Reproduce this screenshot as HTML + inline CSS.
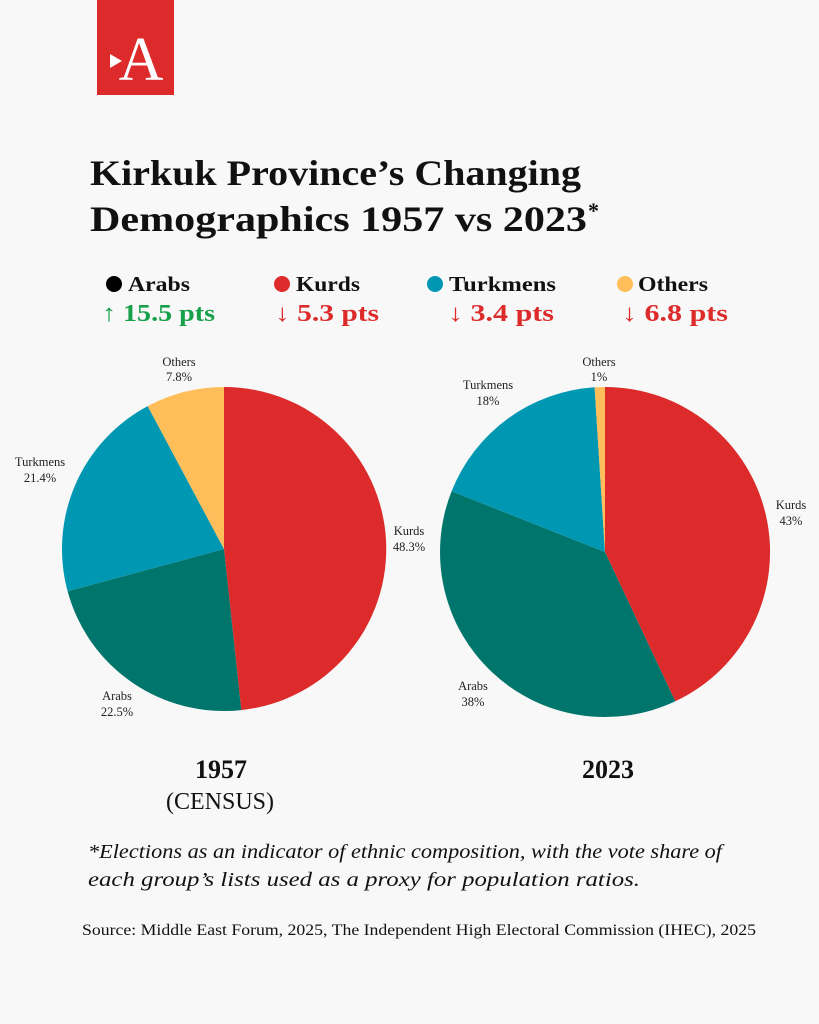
<!DOCTYPE html>
<html><head><meta charset="utf-8"><style>
body{margin:0;background:#f8f8f8;}
svg{display:block}
</style></head><body>
<svg width="819" height="1024" viewBox="0 0 819 1024" xmlns="http://www.w3.org/2000/svg" font-family="'Liberation Serif',serif">
<rect width="819" height="1024" fill="#f8f8f8"/>
<rect x="97" y="0" width="77" height="95" fill="#dc2b2a"/>
<text x="141" y="80" font-size="62" fill="#fff" text-anchor="middle">A</text>
<polygon points="110,54 122,61 110,68" fill="#fff"/>
<g font-weight="bold" fill="#111" font-size="36">
<text x="90" y="185" textLength="491" lengthAdjust="spacingAndGlyphs">Kirkuk Province’s Changing</text>
<text x="90" y="231" textLength="497" lengthAdjust="spacingAndGlyphs">Demographics 1957 vs 2023</text>
<text x="588" y="218" font-size="22">*</text>
</g>
<g font-weight="bold" font-size="21" fill="#111">
<circle cx="114" cy="284" r="8" fill="#000"/><text x="128" y="291" textLength="62" lengthAdjust="spacingAndGlyphs">Arabs</text>
<circle cx="282" cy="284" r="8" fill="#dc2b2a"/><text x="296" y="291" textLength="64" lengthAdjust="spacingAndGlyphs">Kurds</text>
<circle cx="435" cy="284" r="8" fill="#0097b2"/><text x="449" y="291" textLength="107" lengthAdjust="spacingAndGlyphs">Turkmens</text>
<circle cx="625" cy="284" r="8" fill="#ffbe5a"/><text x="638" y="291" textLength="70" lengthAdjust="spacingAndGlyphs">Others</text>
</g>
<g font-weight="bold" font-size="24">
<text x="102" y="321" fill="#16a04a" textLength="113" lengthAdjust="spacingAndGlyphs">↑ 15.5 pts</text>
<text x="275" y="321" fill="#dc2b2a" textLength="104" lengthAdjust="spacingAndGlyphs">↓ 5.3 pts</text>
<text x="448" y="321" fill="#dc2b2a" textLength="106" lengthAdjust="spacingAndGlyphs">↓ 3.4 pts</text>
<text x="622" y="321" fill="#dc2b2a" textLength="106" lengthAdjust="spacingAndGlyphs">↓ 6.8 pts</text>
</g>
<path d="M224,549 L224,387 A162,162 0 0 1 241.3,710.1 Z" fill="#dc2b2a"/>
<path d="M224,549 L241.3,710.1 A162,162 0 0 1 67.6,591.3 Z" fill="#00756b"/>
<path d="M224,549 L67.6,591.3 A162,162 0 0 1 147.7,406.1 Z" fill="#0097b2"/>
<path d="M224,549 L147.7,406.1 A162,162 0 0 1 224,387 Z" fill="#ffbe5a"/>
<path d="M605,552 L605,387 A165,165 0 0 1 675.3,701.3 Z" fill="#dc2b2a"/>
<path d="M605,552 L675.3,701.3 A165,165 0 0 1 451.6,491.3 Z" fill="#00756b"/>
<path d="M605,552 L451.6,491.3 A165,165 0 0 1 594.6,387.3 Z" fill="#0097b2"/>
<path d="M605,552 L594.6,387.3 A165,165 0 0 1 605,387 Z" fill="#ffbe5a"/>
<g font-size="12.5" fill="#222" text-anchor="middle">
<text x="179" y="366">Others</text><text x="179" y="381">7.8%</text>
<text x="40" y="466">Turkmens</text><text x="40" y="482">21.4%</text>
<text x="409" y="535">Kurds</text><text x="409" y="551">48.3%</text>
<text x="117" y="700">Arabs</text><text x="117" y="716">22.5%</text>
<text x="599" y="366">Others</text><text x="599" y="381">1%</text>
<text x="488" y="389">Turkmens</text><text x="488" y="405">18%</text>
<text x="791" y="509">Kurds</text><text x="791" y="525">43%</text>
<text x="473" y="690">Arabs</text><text x="473" y="706">38%</text>
</g>
<g fill="#111" text-anchor="middle">
<text x="221" y="778" font-weight="bold" font-size="26">1957</text>
<text x="220" y="809" font-size="24">(CENSUS)</text>
<text x="608" y="778" font-weight="bold" font-size="26">2023</text>
</g>
<g font-size="20" font-style="italic" fill="#111">
<text x="88" y="858" textLength="634" lengthAdjust="spacingAndGlyphs">*Elections as an indicator of ethnic composition, with the vote share of</text>
<text x="88" y="886" textLength="552" lengthAdjust="spacingAndGlyphs">each group’s lists used as a proxy for population ratios.</text>
</g>
<text x="82" y="935" font-size="16" fill="#111" textLength="674" lengthAdjust="spacingAndGlyphs">Source: Middle East Forum, 2025, The Independent High Electoral Commission (IHEC), 2025</text>
</svg>
</body></html>
